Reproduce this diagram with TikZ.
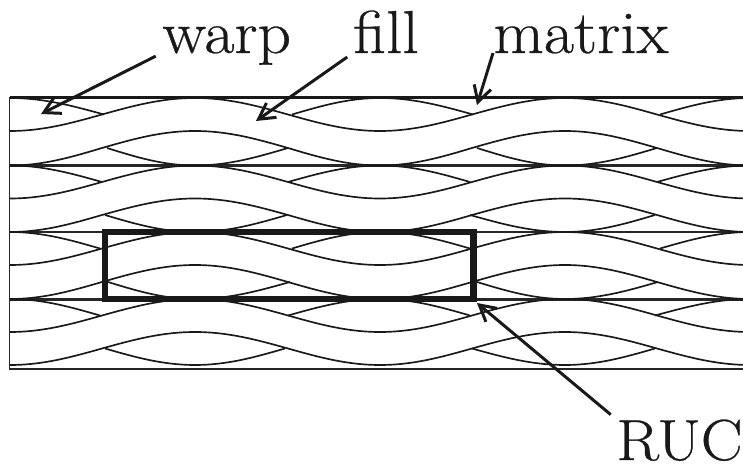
\documentclass[tikz,border=0pt]{standalone}
\usepackage{fontspec}
\usetikzlibrary{arrows.meta}
\newfontfamily\lblfont{Latin Modern Roman}[FakeStretch=1.08,FakeBold=0.5]

\tikzset{
  lbl/.style={font=\lblfont\fontsize{34.5}{36}\selectfont,inner sep=0pt,text=black!90},
  yarn/.style={line width=0.95pt,black!90},
  frameline/.style={line width=1.2pt,black!85},
  ruc/.style={line width=3.7pt,black!90},
  pointer/.style={line width=1.7pt,black!90,shorten <=4pt,
    -{Straight Barb[length=9pt,width=10pt]}},
}

\begin{document}
\begin{tikzpicture}[x=0.02cm,y=-0.02cm,line cap=butt,line join=miter]
  \clip (0,0) rectangle (743,465);
  \coordinate (warptip) at (41,114);
  \coordinate (filltip) at (256,121);
  \coordinate (matrixtip) at (477,105);
  \coordinate (ructip) at (477,303);
  % frame
  \draw[line width=1.6pt,black!90] (9.5,97.5) -- (743,97.5);
  \draw[line width=1pt,black!85] (743,369) -- (9.5,369) -- (9.5,97.5);
  \draw[frameline] (9.5,165.5) -- (743,165.5);
  \draw[frameline] (9.5,232) -- (743,232);
  \draw[frameline] (9.5,299.5) -- (743,299.5);
  % fill yarns
  \draw[yarn] (10,131) cos (102,114.5) sin (195,98) cos (288,114.5) sin (380,131) cos (472,114.5) sin (565,98) cos (657,114.5) sin (750,131);
  \draw[yarn] (10,165.5) cos (102,148) sin (195,131) cos (288,148) sin (380,165.5) cos (472,148) sin (565,131) cos (657,148) sin (750,165.5);
  \draw[yarn] (10,198.5) cos (102,182) sin (195,165.5) cos (288,182) sin (380,198.5) cos (472,182) sin (565,165.5) cos (657,182) sin (750,198.5);
  \draw[yarn] (10,232) cos (102,215) sin (195,198.5) cos (288,215) sin (380,232) cos (472,215) sin (565,198.5) cos (657,215) sin (750,232);
  \draw[yarn] (10,265) cos (102,248.5) sin (195,232) cos (288,248.5) sin (380,265) cos (472,248.5) sin (565,232) cos (657,248.5) sin (750,265);
  \draw[yarn] (10,299) cos (102,282) sin (195,265) cos (288,282) sin (380,299) cos (472,282) sin (565,265) cos (657,282) sin (750,299);
  \draw[yarn] (10,332) cos (102,315.5) sin (195,299) cos (288,315.5) sin (380,332) cos (472,315.5) sin (565,299) cos (657,315.5) sin (750,332);
  \draw[yarn] (10,365) cos (102,348.5) sin (195,332) cos (288,348.5) sin (380,365) cos (472,348.5) sin (565,332) cos (657,348.5) sin (750,365);
  % warp yarns
  \draw[yarn] (10,98) cos (104,114.5);
  \draw[yarn] (292,114.5) sin (380,98) cos (473,114.5);
  \draw[yarn] (660,114.5) sin (750,98);
  \draw[yarn] (107,148) sin (195,165.5) cos (288,148);
  \draw[yarn] (477,148) sin (565,165.5) cos (657,148);
  \draw[yarn] (10,165.5) cos (102,182);
  \draw[yarn] (288,182) sin (380,165.5) cos (470,182);
  \draw[yarn] (657,182) sin (750,165.5);
  \draw[yarn] (105,215) sin (195,232) cos (287,215);
  \draw[yarn] (470,215) sin (565,232) cos (655,215);
  \draw[yarn] (10,232) cos (100,248.5);
  \draw[yarn] (292,248.5) sin (380,232) cos (470,248.5);
  \draw[yarn] (660,248.5) sin (750,232);
  \draw[yarn] (108,282) sin (195,299) cos (290,282);
  \draw[yarn] (477,282) sin (565,299) cos (658,282);
  \draw[yarn] (10,299) cos (100,315.5);
  \draw[yarn] (288,315.5) sin (380,299) cos (470,315.5);
  \draw[yarn] (655,315.5) sin (750,299);
  \draw[yarn] (105,348.5) sin (195,365) cos (285,348.5);
  \draw[yarn] (472,348.5) sin (565,365) cos (655,348.5);
  % unit cell
  \draw[ruc] (105,232) rectangle (473.5,299);
  % labels
  \node[lbl,anchor=base west] (warp) at (162,53) {warp};
  \node[lbl,anchor=base west] (fill) at (353,53) {fill};
  \node[lbl,anchor=base west] (matrix) at (493,53) {matrix};
  \node[lbl,font=\lblfont\fontsize{33}{36}\selectfont,anchor=base east] (RUC) at (743,460) {RUC};
  \draw[pointer] (warp.base west) -- (warptip);
  \draw[pointer] (fill.base west) -- (filltip);
  \draw[pointer,shorten <=0pt] (matrix.base west) -- (matrixtip);
  \draw[pointer] (RUC.north west) -- (ructip);
\end{tikzpicture}
\end{document}
